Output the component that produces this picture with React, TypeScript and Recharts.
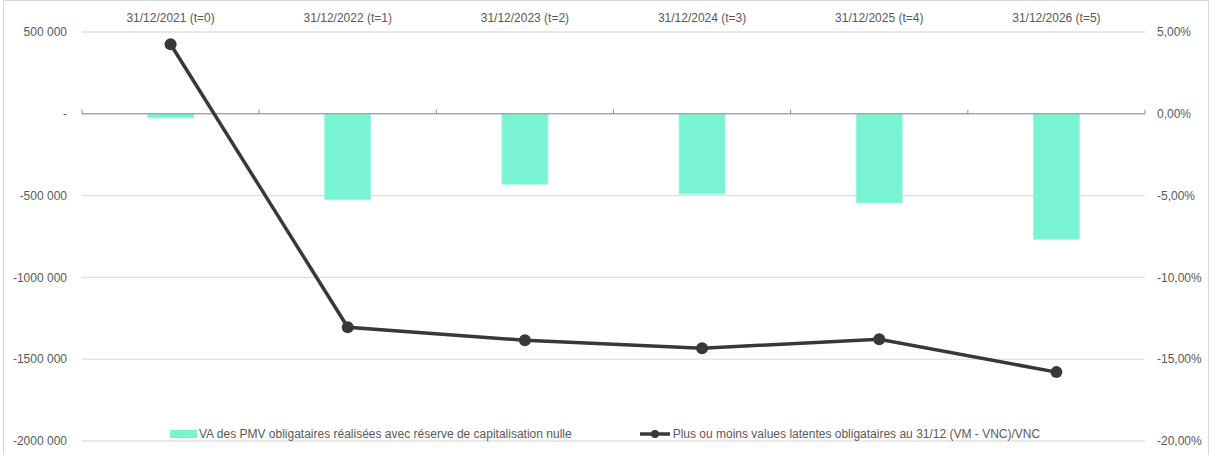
import {
  ComposedChart, Bar, Line, XAxis, YAxis, CartesianGrid, ReferenceLine,
} from 'recharts'

const categories = [
  '31/12/2021 (t=0)',
  '31/12/2022 (t=1)',
  '31/12/2023 (t=2)',
  '31/12/2024 (t=3)',
  '31/12/2025 (t=4)',
  '31/12/2026 (t=5)',
]

// VA des PMV obligataires réalisées (EUR)
const pmvRealisees = [-25000, -525000, -430000, -490000, -545000, -767000]

// Plus ou moins values latentes (VM - VNC)/VNC
const pmvLatentes = [0.0425, -0.1305, -0.1384, -0.1433, -0.1378, -0.1579]

const leftTicks = [500000, 0, -500000, -1000000, -1500000, -2000000]
const minorTicks = [
  500000, 400000, 300000, 200000, 100000, 0, -100000, -200000, -300000, -400000,
  -500000, -600000, -700000, -800000, -900000, -1000000, -1100000, -1200000,
  -1300000, -1400000, -1500000, -1600000, -1700000, -1800000, -1900000, -2000000,
]
const rightTicks = [0.05, 0, -0.05, -0.1, -0.15, -0.2]

const BAR_LABEL = 'VA des PMV obligataires réalisées avec réserve de capitalisation nulle'
const LINE_LABEL = 'Plus ou moins values latentes obligataires au 31/12 (VM - VNC)/VNC'

const data = categories.map((c, i) => ({
  name: c,
  idx: i + 0.5,
  bar: pmvRealisees[i],
  line: pmvLatentes[i],
}))

const TEXT = '#595959'
const FONT = '"Liberation Sans", Arial, sans-serif'

function fmtAmount(v: number) {
  if (v === 0) return '-'
  const abs = Math.abs(v)
  const head = Math.floor(abs / 1000)
  const tail = String(abs % 1000).padStart(3, '0')
  return `${v < 0 ? '-' : ''}${head} ${tail}`
}

function fmtPct(v: number) {
  return `${(v * 100).toFixed(2).replace('.', ',')}%`
}

export default function App() {
  const tick = { fill: TEXT, fontSize: 12, fontFamily: FONT }
  return (
    <div style={{ position: 'absolute', left: 0, top: 0, width: 1212, height: 455, background: '#fff' }}>
      <div
        style={{
          position: 'absolute', left: 3, top: 0, width: 1206, height: 460,
          border: '1px solid #d9d9d9', boxSizing: 'border-box',
        }}
      />
      <ComposedChart
        width={1212}
        height={455}
        data={data}
        margin={{ top: 0, right: 0, left: 0, bottom: 14 }}
        barCategoryGap="37%"
        style={{ position: 'absolute', left: 0, top: 0 }}
      >
        <CartesianGrid yAxisId="minor" vertical={false} stroke="#eeeeee" strokeWidth={1} />
        <CartesianGrid yAxisId="left" vertical={false} stroke="#d9d9d9" strokeWidth={1} />
        <XAxis
          dataKey="name"
          orientation="top"
          height={32}
          axisLine={false}
          tickLine={false}
          tickSize={0}
          tickMargin={10}
          tick={tick}
          interval={0}
        />
        <XAxis xAxisId="num" type="number" dataKey="idx" domain={[0, 6]} hide />
        <YAxis
          yAxisId="left"
          domain={[-2000000, 500000]}
          ticks={leftTicks}
          width={82}
          axisLine={false}
          tickLine={false}
          tickSize={0}
          tickMargin={15}
          tick={tick}
          tickFormatter={fmtAmount}
          interval={0}
        />
        <YAxis yAxisId="minor" domain={[-2000000, 500000]} ticks={minorTicks} hide />
        <YAxis
          yAxisId="right"
          orientation="right"
          domain={[-0.2, 0.05]}
          ticks={rightTicks}
          width={67}
          axisLine={false}
          tickLine={false}
          tickSize={0}
          tickMargin={12}
          tick={{ ...tick, textAnchor: 'start' }}
          tickFormatter={fmtPct}
          interval={0}
        />
        <Bar
          yAxisId="left"
          dataKey="bar"
          fill="#78f4d3"
          stroke="#9ff7e0"
          strokeWidth={1}
          isAnimationActive={false}
        />
        <ReferenceLine yAxisId="left" y={0} stroke="#8c8c8c" strokeWidth={1} />
        {[0, 1, 2, 3, 4, 5, 6].map((i) => (
          <ReferenceLine
            key={i}
            xAxisId="num"
            yAxisId="left"
            segment={[{ x: i, y: 0 }, { x: i, y: 25000 }]}
            stroke="#8c8c8c"
            strokeWidth={1}
          />
        ))}
        <Line
          yAxisId="right"
          dataKey="line"
          stroke="#383838"
          strokeWidth={3.5}
          dot={{ r: 6, fill: '#383838', stroke: '#383838', strokeWidth: 0 }}
          activeDot={false}
          isAnimationActive={false}
        />
      </ComposedChart>
      <div
        style={{
          position: 'absolute', top: 427, left: 170, display: 'flex', alignItems: 'center',
          fontFamily: FONT, fontSize: 12, color: TEXT, whiteSpace: 'nowrap',
        }}
      >
        <span style={{ display: 'inline-block', width: 27, height: 8, background: '#78f4d3', marginRight: 2 }} />
        <span>{BAR_LABEL}</span>
        <span style={{ display: 'inline-block', width: 67 }} />
        <svg width={32} height={12} style={{ marginRight: 2 }}>
          <line x1={1} y1={6} x2={31} y2={6} stroke="#383838" strokeWidth={3.5} />
          <circle cx={16} cy={6} r={4} fill="#383838" />
        </svg>
        <span>{LINE_LABEL}</span>
      </div>
    </div>
  )
}
